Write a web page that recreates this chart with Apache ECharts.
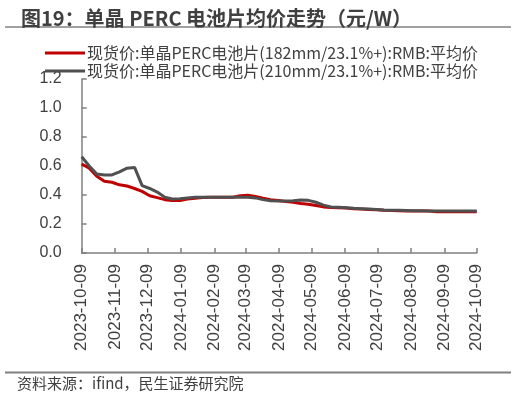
<!DOCTYPE html>
<html>
<head>
<meta charset="utf-8">
<script src="https://cdn.jsdelivr.net/npm/echarts@6/dist/echarts.min.js"></script>
<style>
html,body{margin:0;padding:0;background:#fff;}
#c{width:516px;height:400px;}
</style>
</head>
<body>
<div id="c"></div>
<script>
var titleText = '图19：单晶 PERC 电池片均价走势（元/W）';
var sourceText = '资料来源：ifind，民生证券研究院';
var seriesNames = [
  '现货价:单晶PERC电池片(182mm/23.1%+):RMB:平均价',
  '现货价:单晶PERC电池片(210mm/23.1%+):RMB:平均价'
];
var dates = [
  '2023-10-09','2023-10-16','2023-10-23','2023-10-30','2023-11-06','2023-11-13','2023-11-20','2023-11-27',
  '2023-12-04','2023-12-11','2023-12-18','2023-12-25','2024-01-01','2024-01-08','2024-01-15','2024-01-22',
  '2024-01-29','2024-02-05','2024-02-12','2024-02-19','2024-02-26','2024-03-04','2024-03-11','2024-03-18',
  '2024-03-25','2024-04-01','2024-04-08','2024-04-15','2024-04-22','2024-04-29','2024-05-06','2024-05-13',
  '2024-05-20','2024-05-27','2024-06-03','2024-06-10','2024-06-17','2024-06-24','2024-07-01','2024-07-08',
  '2024-07-15','2024-07-22','2024-07-29','2024-08-05','2024-08-12','2024-08-19','2024-08-26','2024-09-02',
  '2024-09-09','2024-09-16','2024-09-23','2024-09-30','2024-10-09'
];
var price182 = [
  0.614,0.585,0.530,0.495,0.488,0.470,0.462,0.445,
  0.425,0.395,0.382,0.368,0.362,0.362,0.372,0.378,
  0.382,0.385,0.385,0.385,0.385,0.395,0.398,0.390,
  0.378,0.368,0.362,0.355,0.350,0.342,0.336,0.328,
  0.318,0.314,0.312,0.310,0.305,0.303,0.300,0.298,
  0.295,0.293,0.292,0.290,0.290,0.290,0.290,0.285,
  0.285,0.285,0.285,0.285,0.285
];
var price210 = [
  0.664,0.600,0.545,0.538,0.538,0.560,0.585,0.590,
  0.465,0.445,0.420,0.385,0.372,0.375,0.380,0.385,
  0.385,0.385,0.385,0.385,0.385,0.385,0.385,0.380,
  0.368,0.360,0.358,0.358,0.360,0.365,0.363,0.350,
  0.330,0.318,0.315,0.312,0.308,0.306,0.303,0.300,
  0.297,0.295,0.294,0.293,0.292,0.292,0.290,0.290,
  0.290,0.290,0.290,0.290,0.290
];
var tickDates = [
  '2023-10-09','2023-11-09','2023-12-09','2024-01-09','2024-02-09','2024-03-09','2024-04-09',
  '2024-05-09','2024-06-09','2024-07-09','2024-08-09','2024-09-09','2024-10-09'
];
var yTicks = [0, 0.2, 0.4, 0.6, 0.8, 1.0, 1.2];

function ts(s){var p=s.split('-');return Date.UTC(+p[0],+p[1]-1,+p[2]);}
function pad(n){return n<10?'0'+n:''+n;}
function fmt(v){var d=new Date(v);return d.getUTCFullYear()+'-'+pad(d.getUTCMonth()+1)+'-'+pad(d.getUTCDate());}

var tickTs = tickDates.map(ts);
var d182 = dates.map(function(d,i){return [ts(d), price182[i]];});
var d210 = dates.map(function(d,i){return [ts(d), price210[i]];});

var axisColor = '#808080';
var textColor = '#404040';

var chart = echarts.init(document.getElementById('c'), null, {renderer:'canvas'});
chart.setOption({
  animation:false,
  backgroundColor:'#fff',
  title:{
    text:titleText, left:16, top:3,
    textStyle:{fontFamily:'Noto Sans CJK SC', fontWeight:'bold', fontSize:20, color:'#404040'}
  },
  graphic:[
    {type:'line', shape:{x1:5,y1:27,x2:511,y2:27}, style:{stroke:'#808080', lineWidth:1.5}},
    {type:'line', shape:{x1:5,y1:372.5,x2:511,y2:372.5}, style:{stroke:'#808080', lineWidth:2}},
    {type:'text', left:17, top:376, style:{text:sourceText, fontFamily:'Noto Sans CJK SC', fontSize:15, fill:'#404040'}}
  ],
  legend:{
    orient:'vertical', left:40, top:40, itemGap:2,
    icon:'rect', itemWidth:40, itemHeight:3,
    textStyle:{fontFamily:'Noto Sans CJK SC', fontSize:16, lineHeight:16, color:'#404040', padding:[0,0,0,-3]},
    data:seriesNames
  },
  grid:{left:81.7, right:39.3, top:79, bottom:147, containLabel:false},
  xAxis:{
    type:'value',
    min:ts(tickDates[0]), max:ts(tickDates[tickDates.length-1]),
    splitLine:{show:false},
    axisLine:{lineStyle:{color:axisColor, width:1.5}},
    axisTick:{inside:true, length:5, customValues:tickTs, lineStyle:{color:axisColor, width:1.5}},
    axisLabel:{
      customValues:tickTs, rotate:90, margin:11,
      fontFamily:'Liberation Sans', fontSize:17, color:textColor,
      formatter:function(v){return fmt(v);}
    }
  },
  yAxis:{
    type:'value', min:0, max:1.2, interval:0.2,
    splitLine:{show:false},
    axisLine:{show:true, lineStyle:{color:axisColor, width:1.5}},
    axisTick:{show:true, inside:true, length:5, lineStyle:{color:axisColor, width:1.5}},
    axisLabel:{
      fontFamily:'Liberation Sans', fontSize:16, color:textColor, margin:20,
      formatter:function(v){return v.toFixed(1);}
    }
  },
  series:[
    {name:seriesNames[0], type:'line', data:d182, showSymbol:false, symbol:'none',
     lineStyle:{color:'#C00000', width:3}, itemStyle:{color:'#C00000'}},
    {name:seriesNames[1], type:'line', data:d210, showSymbol:false, symbol:'none',
     lineStyle:{color:'#505050', width:3}, itemStyle:{color:'#505050'}}
  ]
});
</script>
</body>
</html>
